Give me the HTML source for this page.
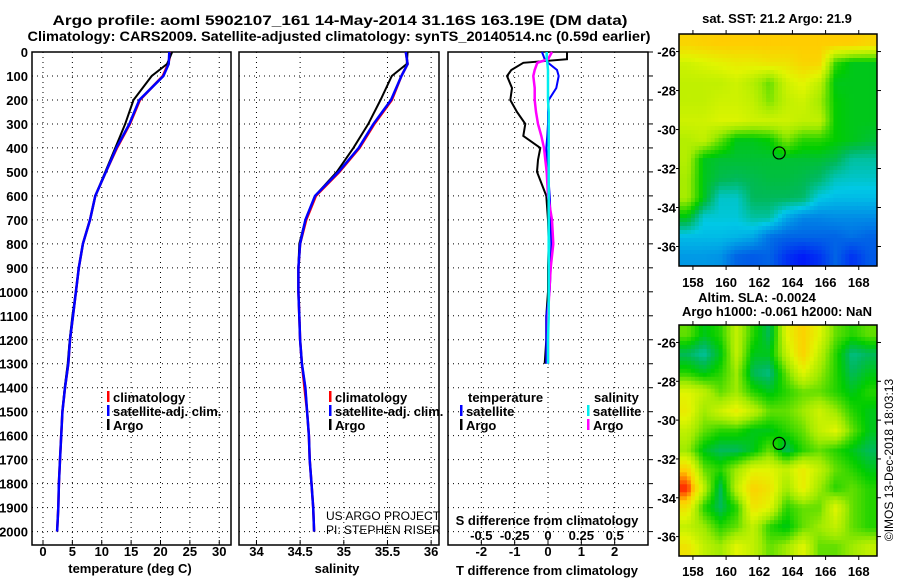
<!DOCTYPE html>
<html><head><meta charset="utf-8"><style>
html,body{margin:0;padding:0;background:#fff;}
svg{display:block;font-family:"Liberation Sans",sans-serif;}
.b{font-weight:bold;}
</style></head><body>
<svg id="s" width="900" height="580" viewBox="0 0 900 580" xmlns="http://www.w3.org/2000/svg">
<text class="b" x="340" y="25" font-size="14" text-anchor="middle" textLength="575" lengthAdjust="spacingAndGlyphs">Argo profile: aoml 5902107_161 14-May-2014 31.16S 163.19E (DM data)</text>
<text class="b" x="339" y="41" font-size="14" text-anchor="middle" textLength="623" lengthAdjust="spacingAndGlyphs">Climatology: CARS2009. Satellite-adjusted climatology: synTS_20140514.nc (0.59d earlier)</text>
<g id="g"></g>
</svg>
<script>
// ---- profile data ----
const depths=[0,50,100,200,300,400,500,600,700,800,900,1000,1100,1200,1300,1400,1500,1600,1700,1800,1900,2000];
const tempClim=[21.8,21.3,20.4,16.5,14.8,12.6,10.7,8.9,8.0,6.8,6.1,5.6,5.1,4.6,4.3,3.75,3.3,3.1,2.9,2.7,2.6,2.4];
const tempSat=[21.5,21.4,20.5,16.4,14.7,12.5,10.7,8.9,8.0,6.8,6.1,5.6,5.1,4.6,4.3,3.75,3.3,3.1,2.9,2.7,2.6,2.4];
const tempArgo=[22.0,21.1,18.5,15.4,14.0,12.3,10.6,8.9,8.0,6.8,6.1,5.6,5.0,4.55,4.2,3.7,3.3,3.1,2.9,2.7,2.6,2.4];
const salClim=[35.71,35.73,35.66,35.55,35.35,35.18,34.95,34.68,34.57,34.50,34.48,34.48,34.49,34.50,34.52,34.55,34.58,34.60,34.61,34.63,34.65,34.66];
const salSat=[35.71,35.73,35.66,35.54,35.34,35.17,34.94,34.67,34.56,34.50,34.48,34.48,34.49,34.50,34.52,34.56,34.58,34.60,34.61,34.63,34.65,34.66];
const salArgo=[35.73,35.72,35.55,35.42,35.28,35.11,34.92,34.67,34.56,34.49,34.48,34.48,34.49,34.50,34.52,34.56,34.58,34.60,34.61,34.63,34.65,34.66];
const diffDepths=[0,30,45,75,100,150,200,250,300,350,400,450,500,600,700,800,900,1000,1100,1200,1300];
const tDiffArgo=[0.57,0.57,-0.74,-1.1,-1.23,-1.08,-1.13,-0.93,-0.68,-0.74,-0.23,-0.3,-0.33,-0.05,0.0,0.02,0.0,0.0,-0.05,-0.05,-0.1];
const tDiffSat=[-0.18,-0.1,0.0,0.27,0.32,0.25,0.02,0.0,0.0,-0.02,-0.05,-0.03,0.0,0.05,0.08,0.1,0.08,0.05,-0.05,-0.05,-0.05];
const sDiffArgo=[0.03,0.0,-0.08,-0.1,-0.11,-0.1,-0.1,-0.09,-0.075,-0.05,-0.03,-0.02,-0.01,0.0,0.03,0.04,0.02,0.01,0.0,0.0,0.0];
const sDiffSat=[-0.01,-0.01,-0.005,0.0,0.0,0.0,0.0,0.005,0.005,0.005,0.005,0.005,0.005,0.005,0.005,0.005,0.005,0.005,0.005,0.0,0.0];
const depthTicks=[0,100,200,300,400,500,600,700,800,900,1000,1100,1200,1300,1400,1500,1600,1700,1800,1900,2000];
const tempTicks=[0,5,10,15,20,25,30];
const salTicks=[34,34.5,35,35.5,36];
const salTickLabels=["34","34.5","35","35.5","36"];
const tDiffTicks=[-2,-1,0,1,2];
const sDiffTicks=[-0.5,-0.25,0,0.25,0.5];
const sDiffTickLabels=["-0.5","-0.25","0","0.25","0.5"];
// ---- map data (0..1 colour index) ----
const sstGrid=[
[0.84,0.85,0.86,0.86,0.86,0.86,0.86,0.86,0.86,0.86,0.86,0.84],
[0.72,0.74,0.76,0.78,0.78,0.8,0.8,0.84,0.84,0.56,0.5,0.5],
[0.7,0.7,0.7,0.72,0.68,0.6,0.72,0.76,0.7,0.5,0.5,0.5],
[0.7,0.7,0.72,0.72,0.7,0.62,0.7,0.72,0.66,0.52,0.5,0.5],
[0.72,0.72,0.74,0.74,0.72,0.72,0.72,0.7,0.7,0.52,0.5,0.5],
[0.68,0.7,0.6,0.5,0.5,0.52,0.62,0.55,0.55,0.52,0.5,0.48],
[0.68,0.5,0.48,0.48,0.48,0.48,0.48,0.48,0.48,0.46,0.4,0.4],
[0.66,0.5,0.46,0.45,0.46,0.47,0.47,0.46,0.44,0.38,0.37,0.37],
[0.66,0.5,0.37,0.37,0.45,0.45,0.45,0.44,0.35,0.33,0.33,0.33],
[0.5,0.36,0.36,0.36,0.4,0.4,0.3,0.25,0.25,0.26,0.26,0.26],
[0.33,0.33,0.33,0.32,0.3,0.22,0.2,0.2,0.2,0.2,0.22,0.2],
[0.28,0.28,0.27,0.2,0.18,0.2,0.1,0.05,0.1,0.2,0.1,0.18]];
const slaGrid=[
[0.6,0.5,0.55,0.7,0.55,0.45,0.75,0.85,0.75,0.6,0.55,0.6],
[0.45,0.4,0.5,0.7,0.5,0.5,0.7,0.85,0.7,0.55,0.42,0.45],
[0.55,0.5,0.55,0.65,0.45,0.42,0.6,0.75,0.65,0.55,0.45,0.5],
[0.75,0.7,0.6,0.65,0.55,0.5,0.55,0.6,0.6,0.55,0.5,0.55],
[0.78,0.65,0.72,0.78,0.7,0.6,0.6,0.65,0.72,0.65,0.55,0.5],
[0.7,0.6,0.55,0.55,0.5,0.5,0.55,0.6,0.7,0.75,0.6,0.5],
[0.65,0.5,0.45,0.45,0.5,0.6,0.45,0.55,0.6,0.55,0.5,0.45],
[0.85,0.6,0.55,0.65,0.75,0.75,0.7,0.78,0.7,0.6,0.55,0.5],
[0.98,0.7,0.45,0.7,0.85,0.8,0.65,0.78,0.65,0.55,0.6,0.55],
[0.8,0.55,0.45,0.55,0.8,0.75,0.55,0.6,0.6,0.75,0.6,0.55],
[0.7,0.65,0.55,0.6,0.7,0.55,0.5,0.6,0.65,0.7,0.6,0.55],
[0.8,0.7,0.65,0.75,0.7,0.6,0.65,0.75,0.6,0.6,0.65,0.7]];
const lonTicks=[158,160,162,164,166,168];
const latTicks=[-26,-28,-30,-32,-34,-36];
const argoLon=163.2, argoLat=-31.2;

const NS="http://www.w3.org/2000/svg";
const G=document.getElementById('g');
function mk(tag,attrs,parent){const e=document.createElementNS(NS,tag);for(const k in attrs)e.setAttribute(k,attrs[k]);(parent||G).appendChild(e);return e;}
function txt(x,y,s,size,anchor,bold,parent){const t=mk('text',{x:x,y:y,'font-size':size,'text-anchor':anchor||'start'},parent);if(bold)t.setAttribute('font-weight','bold');t.textContent=s;return t;}

const TOP=52,BOT=545;
const yD=d=>TOP+d*0.2398;
function panel(name,x0,x1,xmin,xmax){
  const sx=v=>x0+(v-xmin)/(xmax-xmin)*(x1-x0);
  const g=mk('g',{});
  
  
  return {g,sx,x0,x1};
}
function grid(p,xt){
  depthTicks.forEach(d=>{const l=mk('line',{x1:p.x0,x2:p.x1,y1:yD(d),y2:yD(d),stroke:'#000','stroke-width':1,'stroke-dasharray':'1,4'},p.g);
    });
  xt.forEach(v=>{const l=mk('line',{x1:p.sx(v),x2:p.sx(v),y1:TOP,y2:BOT,stroke:'#000','stroke-width':1,'stroke-dasharray':'1,4'},p.g);
    
    const t=mk('line',{x1:p.sx(v),x2:p.sx(v),y1:BOT,y2:BOT-5,stroke:'#000'},p.g);});
  const f=mk('rect',{x:p.x0,y:TOP,width:p.x1-p.x0,height:BOT-TOP,fill:'none',stroke:'#000','stroke-width':1.5},p.g);
  
}
function line(p,xs,ds,col,name,w){
  let pts=xs.map((v,i)=>p.sx(v).toFixed(1)+','+yD(ds[i]).toFixed(1)).join(' ');
  const l=mk('polyline',{points:pts,fill:'none',stroke:col,'stroke-width':w||2.5,'stroke-linejoin':'miter'},p.g);
  
}
function leg(p,x,y,col,label,name){
  const g=mk('g',{},p.g);
  mk('rect',{x:x,y:y-11,width:2.5,height:11,fill:col},g);
  txt(x+6,y,label,13,'start',true,g);
}
// Panel 1
const p1=panel('temperature-panel',32,231,-1.87,32);
grid(p1,tempTicks);
line(p1,tempClim,depths,'#f00','climatology-temp-line');
line(p1,tempArgo,depths,'#000','argo-temp-line',2);
line(p1,tempSat,depths,'#00f','satellite-temp-line');
depthTicks.forEach(d=>{const t=txt(28,yD(d)+5,String(d),13,'end',true);});
tempTicks.forEach(v=>{const t=txt(p1.sx(v),556,String(v),13,'middle',true,p1.g);});
{const t=txt(130,573,'temperature (deg C)',13,'middle',true,p1.g);}
leg(p1,107,402,'#f00','climatology','legend-climatology');
leg(p1,107,416,'#00f','satellite-adj. clim.','legend-satellite-adj');
leg(p1,107,430,'#000','Argo','legend-argo');
// Panel 2
const p2=panel('salinity-panel',239,439,33.8,36.09);
grid(p2,salTicks);
line(p2,salClim,depths,'#f00','climatology-sal-line');
line(p2,salArgo,depths,'#000','argo-sal-line',2);
line(p2,salSat,depths,'#00f','satellite-sal-line');
salTicks.forEach((v,i)=>{const t=txt(p2.sx(v),556,salTickLabels[i],13,'middle',true,p2.g);});
{const t=txt(337,573,'salinity',13,'middle',true,p2.g);}
leg(p2,329,402,'#f00','climatology','legend-climatology');
leg(p2,329,416,'#00f','satellite-adj. clim.','legend-satellite-adj');
leg(p2,329,430,'#000','Argo','legend-argo');
{const t=txt(326,520,'US ARGO PROJECT',12,'start',false,p2.g);
 const t2=txt(326,534,'PI: STEPHEN RISER',12,'start',false,p2.g);}
// Panel 3
const p3=panel('difference-panel',448,648,-3,3);
const p3s=v=>p3.sx(v*4);
grid(p3,tDiffTicks);
depthTicks.forEach(d=>{const l=mk('line',{x1:648,x2:653,y1:yD(d),y2:yD(d),stroke:'#000'},p3.g);});
line(p3,tDiffArgo,diffDepths,'#000','argo-temp-diff-line',2);
line(p3,tDiffSat,diffDepths,'#00f','satellite-temp-diff-line',2);
line(p3,sDiffArgo.map(v=>v*4),diffDepths,'#f0f','argo-sal-diff-line',2.5);
line(p3,sDiffSat.map(v=>v*4),diffDepths,'#0ee','satellite-sal-diff-line',2.5);
tDiffTicks.forEach(v=>{const t=txt(p3.sx(v),556,String(v),13,'middle',true,p3.g);});
sDiffTicks.forEach((v,i)=>{const t=txt(p3s(v),540,sDiffTickLabels[i],13,'middle',true,p3.g);});
{const t=txt(547,525,'S difference from climatology',13,'middle',true,p3.g);
 const t2=txt(547,575,'T difference from climatology',13,'middle',true,p3.g);
 const a=txt(468,402,'temperature',13,'start',true,p3.g);
 const b=txt(594,402,'salinity',13,'start',true,p3.g);}
leg(p3,460,416,'#00f','satellite','legend-temp-satellite');
leg(p3,460,430,'#000','Argo','legend-temp-argo');
leg(p3,587,416,'#0ee','satellite','legend-sal-satellite');
leg(p3,587,430,'#f0f','Argo','legend-sal-argo');

// ---- maps ----
const cstops=[[0,[0,0,255]],[0.2,[0,100,230]],[0.35,[0,200,230]],[0.45,[0,185,90]],[0.52,[0,205,0]],[0.65,[160,235,0]],[0.75,[225,245,0]],[0.86,[255,205,0]],[1,[255,0,0]]];
function cmap(v){for(let i=1;i<cstops.length;i++){if(v<=cstops[i][0]){const a=cstops[i-1],b=cstops[i];const t=(v-a[0])/(b[0]-a[0]);const c=a[1].map((x,k)=>Math.round(x+(b[1][k]-x)*t));return 'rgb('+c+')';}}return 'rgb(255,0,0)';}
function sample(gd,fx,fy){
  const rows=gd.length,cols=gd[0].length;
  let x=fx*cols-0.5,y=fy*rows-0.5;
  x=Math.max(0,Math.min(cols-1,x));y=Math.max(0,Math.min(rows-1,y));
  const x0=Math.floor(x),y0=Math.floor(y),x1=Math.min(cols-1,x0+1),y1=Math.min(rows-1,y0+1);
  const tx=x-x0,ty=y-y0;
  return gd[y0][x0]*(1-tx)*(1-ty)+gd[y0][x1]*tx*(1-ty)+gd[y1][x0]*(1-tx)*ty+gd[y1][x1]*tx*ty;
}
function map(name,gridData,y0,y1,lonLabY){
  const x0=679,x1=877,lonMin=157.16,lonMax=169.1,latTop=-25.1,latBot=-37.0;
  const sx=l=>x0+(l-lonMin)/(lonMax-lonMin)*(x1-x0);
  const sy=l=>y0+(latTop-l)/(latTop-latBot)*(y1-y0);
  const g=mk('g',{});
  const NX=50,NY=58,cw=(x1-x0)/NX,ch=(y1-y0)/NY;
  for(let r=0;r<NY;r++)for(let c=0;c<NX;c++){
    const v=sample(gridData,(c+0.5)/NX,(r+0.5)/NY);
    const e=mk('rect',{x:(x0+c*cw).toFixed(2),y:(y0+r*ch).toFixed(2),width:(cw+0.5).toFixed(2),height:(ch+0.5).toFixed(2),fill:cmap(v)},g);
    
  }
  const c=mk('circle',{cx:sx(argoLon),cy:sy(argoLat),r:6,fill:'none',stroke:'#000','stroke-width':1.2},g);
  
  const f=mk('rect',{x:x0,y:y0,width:x1-x0,height:y1-y0,fill:'none',stroke:'#000','stroke-width':1.5},g);
  
  lonTicks.forEach(l=>{mk('line',{x1:sx(l),x2:sx(l),y1:y0,y2:y0-4,stroke:'#000'},g);mk('line',{x1:sx(l),x2:sx(l),y1:y1,y2:y1+4,stroke:'#000'},g);
    const t=txt(sx(l),lonLabY,String(l),13,'middle',true,g);});
  latTicks.forEach(l=>{mk('line',{x1:x1,x2:x1+4,y1:sy(l),y2:sy(l),stroke:'#000'},g);mk('line',{x1:x0,x2:x0-3,y1:sy(l),y2:sy(l),stroke:'#000'},g);
    const t=txt(676,sy(l)+5,String(l),13,'end',true,g);});
}
map('sst-map',sstGrid,34,266,287);
map('sla-map',slaGrid,325,556,576);
{const t=txt(777,23,'sat. SST: 21.2 Argo: 21.9',13,'middle',true);
 const a=txt(757,302,'Altim. SLA: -0.0024',13,'middle',true);
 const b=txt(777,316,'Argo h1000: -0.061 h2000: NaN',13,'middle',true);
 const c=txt(0,0,'\u00a9IMOS 13-Dec-2018 18:03:13',12,'middle',false);c.setAttribute('transform','translate(893,460) rotate(-90)');}
</script>
</body></html>
